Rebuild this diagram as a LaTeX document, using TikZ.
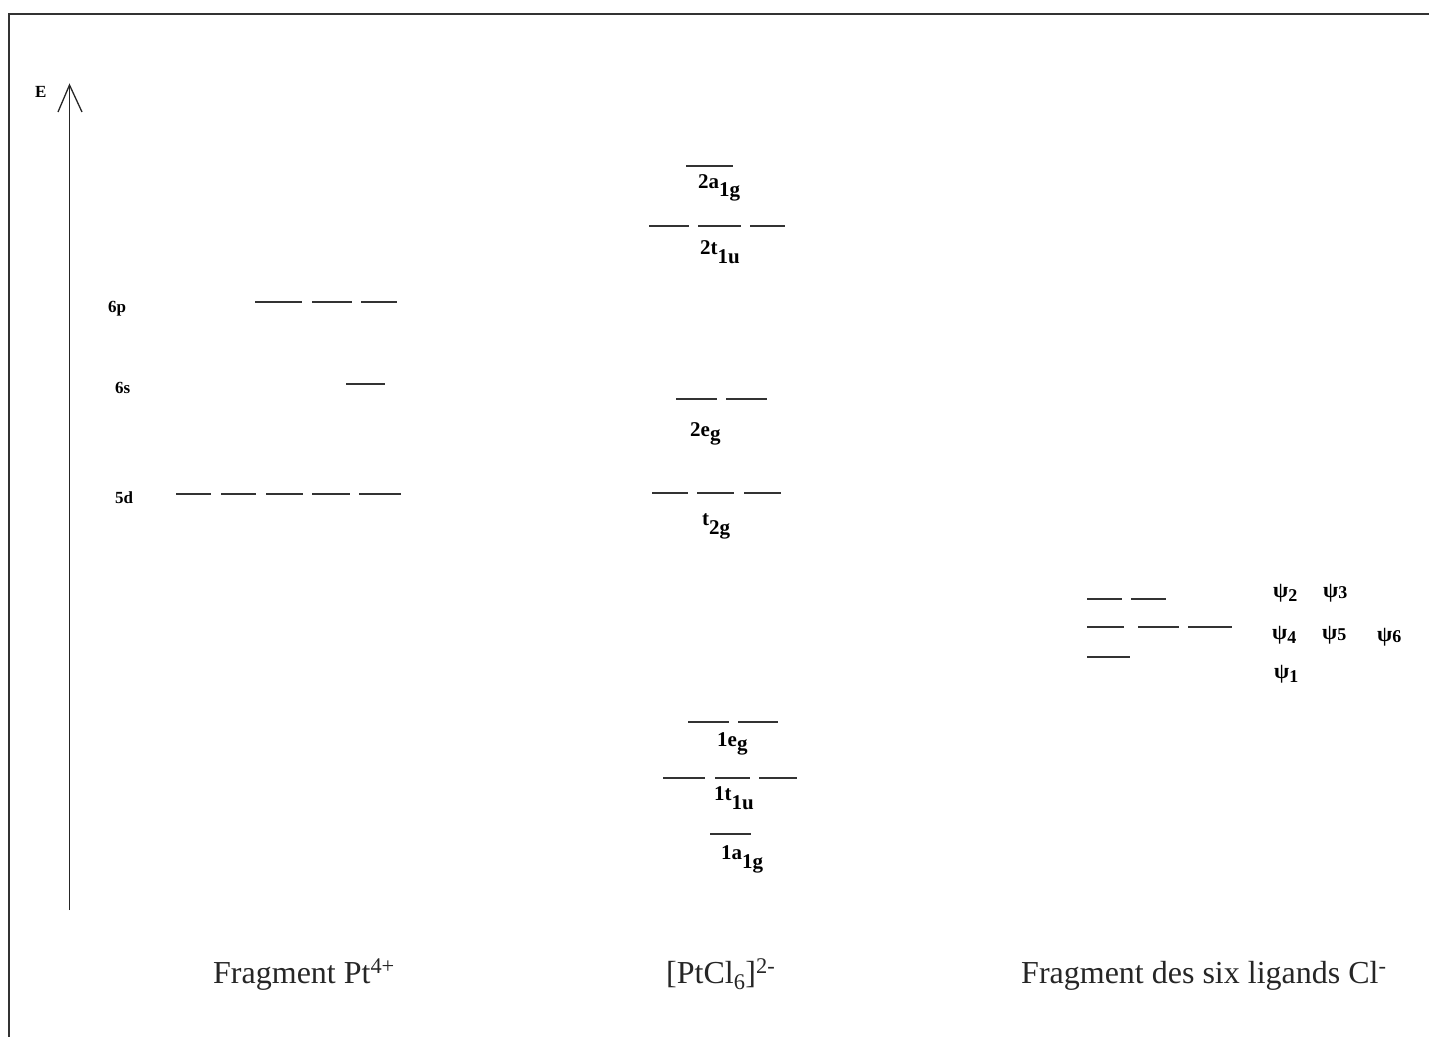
\documentclass[tikz,border=0pt]{standalone}
\usepackage{fontspec}
\setmainfont{Liberation Serif}
\newcommand{\lowr}[2][8pt]{\raisebox{-#1}{#2}}
\newcommand{\psisym}{{\fontsize{22}{24}\selectfont ψ}}
\begin{document}
\begin{tikzpicture}[x=1pt,y=-1pt,
  lvl/.style={line width=1.6pt, draw=black!80},
  frame/.style={line width=2pt, draw=black!80},
  axis/.style={line width=1.3pt, draw=black!85},
  lab/.style={font=\fontsize{17}{20}\selectfont\bfseries, inner sep=0pt, anchor=base west},
  mlab/.style={font=\fontsize{21}{24}\selectfont\bfseries, inner sep=0pt, anchor=base west},
  psi/.style={font=\fontsize{18}{22}\selectfont\bfseries, inner sep=0pt, anchor=base west},
  captext/.style={font=\fontsize{32}{36}\selectfont, inner sep=0pt, anchor=base west, text=black!85}]
\useasboundingbox (0,0) rectangle (1429,1037);
% frame
\draw[frame] (1429,14) -- (8.5,14) -- (8.5,1037);
% energy axis
\coordinate (axb) at (69.5,910);
\coordinate (axt) at (69.5,85);
\coordinate (barbL) at (58,112);
\coordinate (barbR) at (82,112);
\draw[axis] (axb) -- (axt);
\draw[axis, line join=miter] (barbL) -- (axt) -- (barbR);
\node[lab] (E) at (35,97) {E};
% Pt4+ fragment
\node[lab] (l6p) at (108,312) {6p};
\node[lab] (l6s) at (115,393) {6s};
\node[lab] (l5d) at (115,503) {5d};
\foreach \a/\b in {255/302,312/352,361/397} \draw[lvl] (\a,302) -- (\b,302);
\draw[lvl] (346,384) -- (385,384);
\foreach \a/\b in {176/211,221/256,266/303,312/350,359/401} \draw[lvl] (\a,494) -- (\b,494);
% complex
\draw[lvl] (686,166) -- (733,166);
\node[mlab] (m2a1g) at (698,188) {2a\lowr[8pt]{1g}};
\foreach \a/\b in {649/689,698/741,750/785} \draw[lvl] (\a,226) -- (\b,226);
\node[mlab] (m2t1u) at (700,254) {2t\lowr[9pt]{1u}};
\foreach \a/\b in {676/717,726/767} \draw[lvl] (\a,399) -- (\b,399);
\node[mlab] (m2eg) at (690,436) {2e\lowr[4pt]{g}};
\foreach \a/\b in {652/688,697/734,744/781} \draw[lvl] (\a,493) -- (\b,493);
\node[mlab] (mt2g) at (702,525) {t\lowr[9pt]{2g}};
\foreach \a/\b in {688/729,738/778} \draw[lvl] (\a,722) -- (\b,722);
\node[mlab] (m1eg) at (717,746) {1e\lowr[4pt]{g}};
\foreach \a/\b in {663/705,715/750,759/797} \draw[lvl] (\a,778) -- (\b,778);
\node[mlab] (m1t1u) at (714,800) {1t\lowr[9pt]{1u}};
\draw[lvl] (710,834) -- (751,834);
\node[mlab] (m1a1g) at (721,859) {1a\lowr[9pt]{1g}};
% ligands
\foreach \a/\b in {1087/1122,1131/1166} \draw[lvl] (\a,599) -- (\b,599);
\foreach \a/\b in {1087/1124,1138/1179,1188/1232} \draw[lvl] (\a,627) -- (\b,627);
\draw[lvl] (1087,657) -- (1130,657);
\node[psi] (p2) at (1273,597) {\psisym\lowr[4pt]{2}};
\node[psi] (p3) at (1323,597) {\psisym\lowr[1pt]{3}};
\node[psi] (p4) at (1272,639) {\psisym\lowr[4pt]{4}};
\node[psi] (p5) at (1322,639) {\psisym\lowr[1pt]{5}};
\node[psi] (p6) at (1377,641) {\psisym\lowr[1pt]{6}};
\node[psi] (p1) at (1274,678) {\psisym\lowr[4pt]{1}};
% captions
\node[captext] (c1) at (213,983) {Fragment Pt\textsuperscript{4+}};
\node[captext] (c2) at (666,983) {[PtCl\textsubscript{6}]\textsuperscript{2-}};
\node[captext] (c3) at (1021,983) {Fragment des six ligands Cl\textsuperscript{-}};
\end{tikzpicture}
\end{document}
